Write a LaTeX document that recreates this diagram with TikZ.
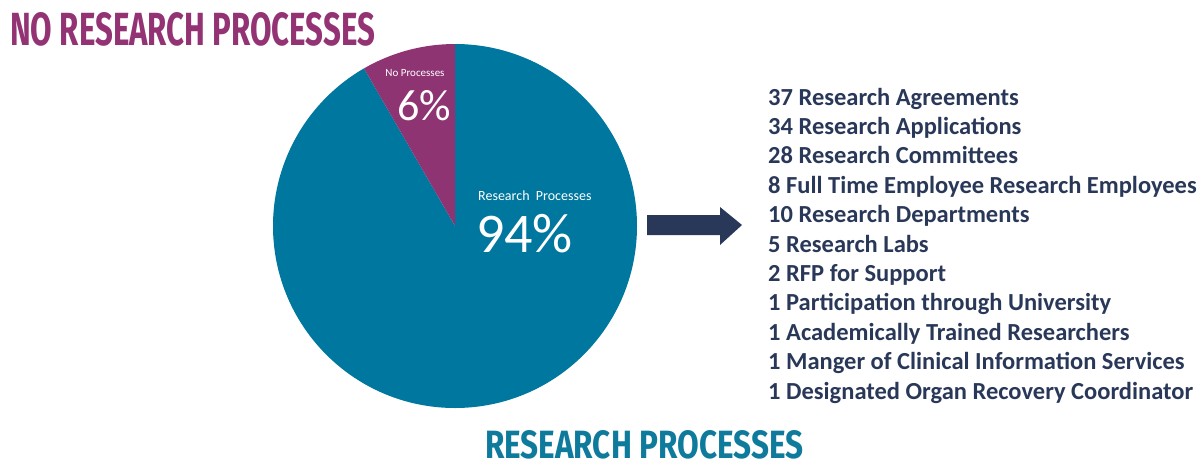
\documentclass[tikz,border=0pt]{standalone}
\usepackage{fontspec}
\setmainfont{Carlito}
\newfontfamily\titlefont{Fira Sans}
\definecolor{pieteal}{RGB}{0,119,158}
\definecolor{piepurple}{RGB}{142,52,115}
\definecolor{titlepurple}{RGB}{147,51,116}
\definecolor{titleteal}{RGB}{14,122,156}
\definecolor{navy}{RGB}{41,56,88}
\begin{document}
\begin{tikzpicture}[x=1pt,y=-1pt,
  title/.style={inner sep=0pt,anchor=south west},
  listitem/.style={inner sep=0pt,anchor=base west,text=navy,font=\fontsize{24.5}{24.5}\selectfont\bfseries},
  pielabel/.style={inner sep=0pt,text=white}]
\useasboundingbox (0,0) rectangle (1204,464);
\coordinate (c) at (455,226);
% pie
\fill[pieteal] (c) -- ++(-90:182) arc[start angle=-90,end angle=240,radius=182] -- cycle;
\fill[piepurple] (c) -- ++(-120:182) arc[start angle=-120,end angle=-90,radius=182] -- cycle;
% pie labels
\node[pielabel,anchor=base] (nolab) at (415,76) {\fontsize{11}{11}\selectfont No Processes};
\node[pielabel,anchor=base] (nopct) at (424,120) {\fontsize{44}{44}\selectfont 6\%};
\node[pielabel,anchor=base west] (rplab) at (478,200) {\fontsize{14}{14}\selectfont Research\ \ Processes};
\node[pielabel,anchor=base west] (rppct) at (476,252) {\fontsize{56}{56}\selectfont 94\%};
% titles
\node[title] (t1) at (10,46) {\color{titlepurple}\resizebox{365pt}{33pt}{\titlefont\bfseries NO RESEARCH PROCESSES}};
\node[title] (t2) at (485,459) {\color{titleteal}\resizebox{318pt}{28pt}{\titlefont\bfseries RESEARCH PROCESSES}};
% arrow
\fill[navy] (647,215) -- (720,215) -- (720,207) -- (742,225) -- (720,245) -- (720,235) -- (647,235) -- cycle;
% list
\foreach \t [count=\i from 0] in {37 Research Agreements,34 Research Applications,28 Research Committees,8 Full Time Employee Research Employees,10 Research Departments,5 Research Labs,2 RFP for Support,1 Participation through University,1 Academically Trained Researchers,1 Manger of Clinical Information Services,1 Designated Organ Recovery Coordinator}
  \node[listitem] (item\i) at (768,{105+29.4*\i}) {\t};
\end{tikzpicture}
\end{document}
